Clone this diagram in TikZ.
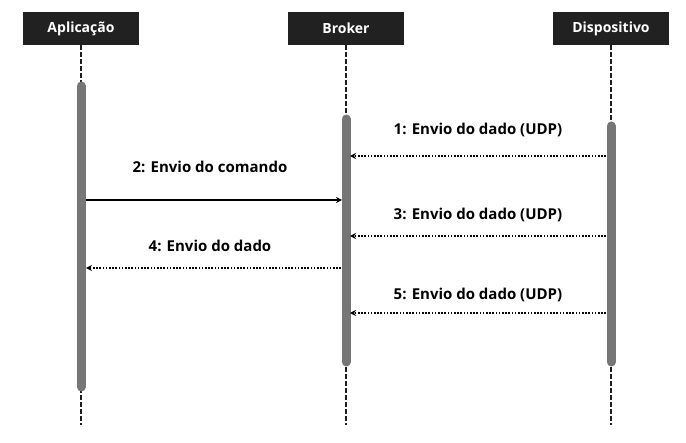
\documentclass[tikz,border=0pt]{standalone}
\usepackage{fontspec}
\setmainfont{Open Sans}
\usetikzlibrary{arrows.meta}
\begin{document}
\begin{tikzpicture}[x=1pt,y=-1pt,
  header/.style={fill={rgb,255:red,33;green,33;blue,33}, text=white, minimum width=116pt, minimum height=33pt, inner sep=0pt, font=\fontsize{14}{16}\selectfont\bfseries},
  lifeline/.style={draw={rgb,255:red,30;green,30;blue,30}, line width=2.6pt, dash pattern=on 4.5pt off 2.5pt},
  actbar/.style={draw={rgb,255:red,118;green,118;blue,118}, line width=9pt, line cap=round},
  msg/.style={font=\fontsize{15}{17}\selectfont\bfseries, inner sep=0pt},
  sync/.style={line width=1.5pt, -{Stealth[length=6pt,width=6pt]}},
  reply/.style={line width=1.6pt, dash pattern=on 1.6pt off 1.6pt, -{Stealth[length=6pt,width=6pt]}}
]
\useasboundingbox (0,0) rectangle (686,443);
\fill[white] (0,0) rectangle (686,443);

\node[header] (app) at (81,28.5) {Aplicação};
\node[header] (brk) at (346,28.5) {Broker};
\node[header] (dev) at (611,28.5) {Dispositivo};

\coordinate (append) at (81,425);
\coordinate (brkend) at (346,425);
\coordinate (devend) at (611,425);

\draw[lifeline] (app.south) -- (append);
\draw[lifeline] (brk.south) -- (brkend);
\draw[lifeline] (dev.south) -- (devend);

\coordinate (appA) at (81,86);
\coordinate (appB) at (81,387);
\coordinate (brkA) at (346,119);
\coordinate (brkB) at (346,362);
\coordinate (devA) at (611,126);
\coordinate (devB) at (611,362);
\draw[actbar] (appA) -- (appB);
\draw[actbar] (brkA) -- (brkB);
\draw[actbar] (devA) -- (devB);

% message endpoints
\coordinate (m1s) at (606,156);  \coordinate (m1e) at (350,156);
\coordinate (m2s) at (86,200);   \coordinate (m2e) at (342,200);
\coordinate (m3s) at (606,236);  \coordinate (m3e) at (350,236);
\coordinate (m4s) at (341,268);  \coordinate (m4e) at (86,268);
\coordinate (m5s) at (606,313);  \coordinate (m5e) at (350,313);

\draw[reply] (m1s) -- (m1e);
\draw[sync] (m2s) -- (m2e);
\draw[reply] (m3s) -- (m3e);
\draw[reply] (m4s) -- (m4e);
\draw[reply] (m5s) -- (m5e);

\node[msg] (l1) at (478,130) {1: Envio do dado (UDP)};
\node[msg] (l2) at (210,167) {2: Envio do comando};
\node[msg] (l3) at (478,215) {3: Envio do dado (UDP)};
\node[msg] (l4) at (210,246) {4: Envio do dado};
\node[msg] (l5) at (478,295) {5: Envio do dado (UDP)};
\end{tikzpicture}
\end{document}
